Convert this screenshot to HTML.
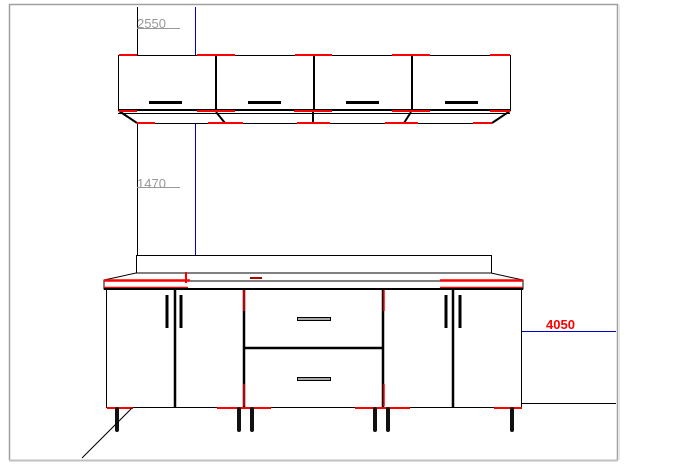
<!DOCTYPE html>
<html><head><style>html,body{margin:0;padding:0;background:#fff}svg{display:block}</style></head>
<body>
<svg width="680" height="465" xmlns="http://www.w3.org/2000/svg" font-family="Liberation Sans, sans-serif">
<rect x="0" y="0" width="680" height="465" fill="#fff"/>
<!-- frame -->
<path d="M9.5 460 V4.5 H617.5 V460" fill="none" stroke="#a0a0a0" stroke-width="1.5"/>
<line x1="9" y1="460.5" x2="618" y2="460.5" stroke="#c0c0c0" stroke-width="2"/>
<line x1="619" y1="5" x2="619" y2="460" stroke="#e8e8e8" stroke-width="2"/>
<!-- vertical dims -->
<line x1="137.5" y1="7" x2="137.5" y2="55" stroke="#000"/>
<line x1="195.5" y1="7" x2="195.5" y2="55" stroke="#0000cc"/>
<line x1="137.5" y1="123" x2="137.5" y2="256" stroke="#000"/>
<line x1="195.5" y1="123" x2="195.5" y2="275" stroke="#0000cc"/>
<text x="137" y="28" font-size="13" fill="#999">2550</text>
<line x1="137" y1="28.5" x2="180" y2="28.5" stroke="#999"/>
<text x="137" y="188" font-size="13" fill="#999">1470</text>
<line x1="137" y1="187.5" x2="180" y2="187.5" stroke="#999"/>
<!-- upper cabinets -->
<rect x="118.5" y="55.5" width="392" height="55" fill="#fff" stroke="#000"/>
<g stroke="#000" stroke-width="2">
<line x1="216" y1="55" x2="216" y2="110"/><line x1="314" y1="55" x2="314" y2="110"/><line x1="412" y1="55" x2="412" y2="110"/>
<line x1="118" y1="110" x2="510" y2="110"/>
</g>
<line x1="118" y1="113.5" x2="510" y2="113.5" stroke="#000"/>
<line x1="137" y1="123.5" x2="492" y2="123.5" stroke="#000"/>
<line x1="119" y1="111" x2="137" y2="123" stroke="#000" stroke-width="2"/>
<line x1="510" y1="111" x2="492" y2="123" stroke="#000" stroke-width="2"/>
<line x1="216" y1="112" x2="225" y2="123" stroke="#000" stroke-width="2"/>
<line x1="313" y1="112" x2="313" y2="123" stroke="#000" stroke-width="2"/>
<line x1="411" y1="112" x2="404" y2="123" stroke="#000" stroke-width="2"/>
<g fill="#000"><rect x="149" y="101" width="33" height="3"/><rect x="248" y="101" width="33" height="3"/><rect x="346" y="101" width="33" height="3"/><rect x="445" y="101" width="33" height="3"/></g>
<g stroke="#f00" stroke-width="2">
<line x1="119" y1="55" x2="137" y2="55"/><line x1="197" y1="55" x2="235" y2="55"/><line x1="295" y1="55" x2="332" y2="55"/><line x1="392" y1="55" x2="430" y2="55"/><line x1="490" y1="55" x2="510" y2="55"/>
<line x1="119" y1="111" x2="137" y2="111"/><line x1="197" y1="111" x2="235" y2="111"/><line x1="294" y1="111" x2="332" y2="111"/><line x1="392" y1="111" x2="430" y2="111"/><line x1="490" y1="111" x2="510" y2="111"/>
<line x1="137" y1="123" x2="155" y2="123"/><line x1="208" y1="123" x2="243" y2="123"/><line x1="297" y1="123" x2="330" y2="123"/><line x1="385" y1="123" x2="418" y2="123"/><line x1="473" y1="123" x2="492" y2="123"/>
</g>
<!-- backsplash & counter -->
<rect x="136.5" y="255.5" width="355" height="18" fill="#fff" stroke="#000"/>
<path d="M136 273 L118 277 L104 280 L104 289 L523 289 L523 280 L509 277 L491 273 Z" fill="#fff" stroke="#000"/>
<line x1="104" y1="281" x2="523" y2="281" stroke="#000"/>
<g stroke="#f00" stroke-width="2.5">
<line x1="104" y1="280.5" x2="190" y2="280.5"/><line x1="104" y1="288" x2="188" y2="288"/>
<line x1="440" y1="280.5" x2="523" y2="280.5"/><line x1="440" y1="288" x2="523" y2="288"/>
</g>
<line x1="186" y1="272" x2="186" y2="283" stroke="#f00" stroke-width="2"/>
<rect x="250" y="277" width="12" height="2" fill="#a00"/>
<!-- base cabinets -->
<rect x="106.5" y="289.5" width="415" height="118" fill="#fff" stroke="#000"/>
<line x1="104" y1="289" x2="523" y2="289" stroke="#000" stroke-width="2"/>
<g stroke="#000" stroke-width="2.5">
<line x1="175" y1="289" x2="175" y2="407"/><line x1="244" y1="289" x2="244" y2="407"/><line x1="383" y1="289" x2="383" y2="407"/><line x1="453" y1="289" x2="453" y2="407"/>
<line x1="244" y1="348" x2="383" y2="348"/>
</g>
<g stroke="#f00" stroke-width="1.5"><line x1="244" y1="290" x2="244" y2="311"/><line x1="384" y1="290" x2="384" y2="311"/><line x1="384" y1="384" x2="384" y2="406"/><line x1="244" y1="384" x2="244" y2="406"/></g>
<g stroke="#000" stroke-width="3"><line x1="167" y1="295" x2="167" y2="328"/><line x1="181" y1="295" x2="181" y2="328"/><line x1="446" y1="295" x2="446" y2="328"/><line x1="460" y1="295" x2="460" y2="328"/></g>
<rect x="297.5" y="317.5" width="33" height="3" fill="#aaa" stroke="#000"/>
<rect x="297.5" y="377.5" width="33" height="3" fill="#aaa" stroke="#000"/>
<g stroke="#f00" stroke-width="2"><line x1="107" y1="408" x2="133" y2="408"/><line x1="217" y1="408" x2="271" y2="408"/><line x1="355" y1="408" x2="410" y2="408"/><line x1="494" y1="408" x2="522" y2="408"/></g>
<g stroke="#111" stroke-width="4" stroke-linecap="round"><line x1="117" y1="409" x2="117" y2="430"/><line x1="239" y1="409" x2="239" y2="430"/><line x1="252" y1="409" x2="252" y2="430"/><line x1="375" y1="409" x2="375" y2="430"/><line x1="388" y1="409" x2="388" y2="430"/><line x1="512" y1="409" x2="512" y2="430"/></g>
<line x1="132" y1="408" x2="82" y2="458" stroke="#000" stroke-width="1"/>
<!-- 4050 -->
<line x1="522" y1="331.5" x2="616" y2="331.5" stroke="#0000cc"/>
<line x1="522" y1="403.5" x2="616" y2="403.5" stroke="#000"/>
<text x="546" y="329" font-size="13" font-weight="bold" fill="#f00">4050</text>
</svg>
</body></html>
